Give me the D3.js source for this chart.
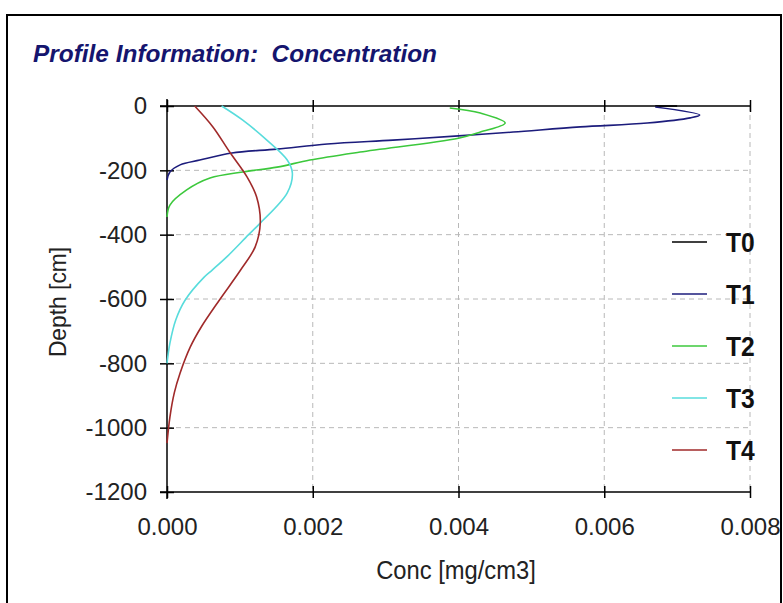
<!DOCTYPE html>
<html>
<head>
<meta charset="utf-8">
<script src="https://cdn.jsdelivr.net/npm/d3@7"></script>
<style>
  body { margin: 0; background: #fff; }
  svg { display: block; font-family: "Liberation Sans", Arial, sans-serif; }
</style>
</head>
<body>
<svg id="s" width="783" height="603"></svg>
<script>
// Data: concentration [mg/cm3] vs depth [cm]
const seriesNames = ["T0", "T1", "T2", "T3", "T4"],
  seriesColors = ["#000000", "#1c1c7c", "#3cc83c", "#58dcdc", "#a02a2a"],
  t0Conc = [0.0067, 0.0070],
  t0Depth = [0, 0],
  t1Conc = [0.0067, 0.00731, 0.00718, 0.00659, 0.00567, 0.00475, 0.0040, 0.0031, 0.0022, 0.00151, 0.00089, 0.00045, 0.00018, 0.00004, 0],
  t1Depth = [-3, -28, -37, -53, -65, -81, -93, -106, -118, -134, -146, -168, -183, -205, -230],
  t2Conc = [0.00388, 0.0043, 0.00464, 0.0043, 0.0040, 0.00265, 0.00196, 0.00151, 0.00104, 0.00059, 0.00027, 0.00004, 0],
  t2Depth = [-6, -22, -53, -81, -100, -143, -168, -190, -205, -224, -261, -308, -345],
  t3Conc = [0.00075, 0.00104, 0.00137, 0.00165, 0.00172, 0.00165, 0.00128, 0.00112, 0.00082, 0.00062, 0.00051, 0.00025, 0.00012, 0.00004, 0],
  t3Depth = [0, -44, -106, -168, -208, -270, -364, -400, -469, -510, -532, -603, -665, -737, -800],
  t4Conc = [0.00038, 0.00063, 0.00086, 0.0011, 0.00123, 0.00128, 0.00121, 0.00101, 0.00072, 0.00047, 0.00032, 0.00018, 0.0001, 0.00004, 0],
  t4Depth = [0, -65, -143, -221, -283, -364, -438, -510, -603, -687, -749, -830, -892, -967, -1048],
  xTicks = [0, 0.002, 0.004, 0.006, 0.008],
  yTicks = [0, -200, -400, -600, -800, -1000, -1200];

const concs = [t0Conc, t1Conc, t2Conc, t3Conc, t4Conc],
  depths = [t0Depth, t1Depth, t2Depth, t3Depth, t4Depth];

const svg = d3.select("#s"),
  x = d3.scaleLinear().domain([0, 0.008]).range([167, 750]),
  y = d3.scaleLinear().domain([0, -1200]).range([106, 492]);

// narrow text a bit, the original font is condensed
const squeeze = (sel, k) => sel.each(function () {
  this.setAttribute("textLength", this.getComputedTextLength() * k);
  this.setAttribute("lengthAdjust", "spacingAndGlyphs");
});

// frame
svg.append("rect")
  .attr("x", 7).attr("y", 15).attr("width", 774).attr("height", 600)
  .attr("fill", "none").attr("stroke", "#000").attr("stroke-width", 2);

// title
svg.append("text")
  .attr("x", 33).attr("y", 62)
  .attr("fill", "#15156e")
  .style("font-size", "23px").style("font-weight", "bold").style("font-style", "italic")
  .style("white-space", "pre")
  .attr("textLength", 404).attr("lengthAdjust", "spacingAndGlyphs")
  .text("Profile Information:  Concentration");

// grid
const grid = svg.append("g").attr("stroke", "#b8b8b8").attr("stroke-dasharray", "5,4");
grid.selectAll("line.v").data(xTicks.slice(1)).join("line")
  .attr("x1", d => x(d)).attr("x2", d => x(d)).attr("y1", y(0)).attr("y2", y(-1200));
grid.selectAll("line.h").data(yTicks.slice(1, -1)).join("line")
  .attr("x1", x(0)).attr("x2", x(0.008)).attr("y1", d => y(d)).attr("y2", d => y(d));

// axes
const fmt = d3.format(".3f");
const gx = svg.append("g").attr("transform", `translate(0,${y(-1200)})`)
  .call(d3.axisBottom(x).tickValues(xTicks).tickFormat(fmt).tickSize(6).tickPadding(20));
gx.selectAll(".tick line").attr("y1", -6);
const gxTop = svg.append("g").attr("transform", `translate(0,${y(0)})`)
  .call(d3.axisTop(x).tickValues(xTicks).tickFormat("").tickSize(6));
gxTop.selectAll(".tick line").attr("y1", 6);
const gy = svg.append("g").attr("transform", `translate(${x(0)},0)`)
  .call(d3.axisLeft(y).tickValues(yTicks).tickFormat(d => String(d)).tickSize(7).tickPadding(13));
gy.selectAll(".tick line").attr("x1", 7);

[gx, gxTop, gy].forEach(g => {
  g.select(".domain").remove();
  g.selectAll(".tick line").attr("stroke", "#000").attr("stroke-width", 1.5);
  g.selectAll(".tick text").attr("fill", "#222").style("font-size", "24px").attr("font-family", null);
});
svg.append("line").attr("x1", x(0) - 7).attr("x2", x(0.008)).attr("y1", y(0)).attr("y2", y(0)).attr("stroke", "#000").attr("stroke-width", 1.5);
svg.append("line").attr("x1", x(0) - 7).attr("x2", x(0.008)).attr("y1", y(-1200)).attr("y2", y(-1200)).attr("stroke", "#000").attr("stroke-width", 1.5);
svg.append("line").attr("x1", x(0)).attr("x2", x(0)).attr("y1", y(0) - 7).attr("y2", y(-1200) + 7).attr("stroke", "#000").attr("stroke-width", 1.5);

// axis titles
svg.append("text").attr("x", 456).attr("y", 579).attr("text-anchor", "middle")
  .attr("fill", "#222").style("font-size", "25px").text("Conc [mg/cm3]")
  .call(squeeze, 0.95);
svg.append("text").attr("transform", "translate(66,302) rotate(-90)").attr("text-anchor", "middle")
  .attr("fill", "#222").style("font-size", "24px").text("Depth [cm]")
  .call(squeeze, 0.95);

// curves
const line = d3.line().x(d => x(d[0])).y(d => y(d[1])).curve(d3.curveCatmullRom.alpha(0.5));
seriesNames.forEach((name, i) => {
  svg.append("path")
    .datum(d3.zip(concs[i], depths[i]))
    .attr("fill", "none").attr("stroke", seriesColors[i]).attr("stroke-width", 1.6)
    .attr("d", line);
});

// legend
const leg = svg.append("g").selectAll("g").data(seriesNames).join("g")
  .attr("transform", (d, i) => `translate(0,${242 + i * 52})`);
leg.append("line").attr("x1", 672).attr("x2", 707)
  .attr("stroke", (d, i) => seriesColors[i]).attr("stroke-width", 1.6);
leg.append("text").attr("x", 726).attr("dy", "0.36em")
  .style("font-size", "28px").style("font-weight", "bold").attr("fill", "#111")
  .text(d => d)
  .call(squeeze, 0.88);
</script>
</body>
</html>
